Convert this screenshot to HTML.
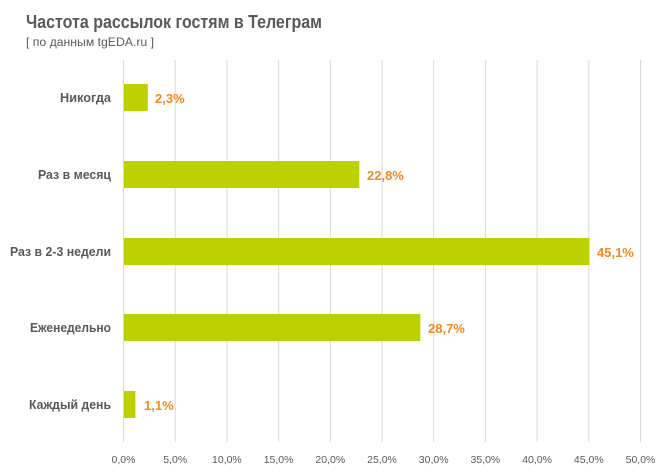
<!DOCTYPE html>
<html><head><meta charset="utf-8"><style>
html,body{margin:0;padding:0;background:#fff;}
svg{display:block;font-family:"Liberation Sans","DejaVu Sans",sans-serif;}
</style></head><body>
<svg width="670" height="475" viewBox="0 0 670 475">
<text x="26" y="28" font-size="18" font-weight="bold" fill="#595959" textLength="296" lengthAdjust="spacingAndGlyphs">Частота рассылок гостям в Телеграм</text>
<text x="26" y="46" font-size="12" fill="#595959" textLength="128" lengthAdjust="spacingAndGlyphs">[ по данным tgEDA.ru  ]</text>
<g stroke="#d9d9d9" stroke-width="1">
<line x1="123.5" y1="60" x2="123.5" y2="442"/>
<line x1="175.2" y1="60" x2="175.2" y2="442"/>
<line x1="226.9" y1="60" x2="226.9" y2="442"/>
<line x1="278.6" y1="60" x2="278.6" y2="442"/>
<line x1="330.3" y1="60" x2="330.3" y2="442"/>
<line x1="382" y1="60" x2="382" y2="442"/>
<line x1="433.7" y1="60" x2="433.7" y2="442"/>
<line x1="485.4" y1="60" x2="485.4" y2="442"/>
<line x1="537.1" y1="60" x2="537.1" y2="442"/>
<line x1="588.8" y1="60" x2="588.8" y2="442"/>
<line x1="640.5" y1="60" x2="640.5" y2="442"/>
</g>
<g fill="#bdd100">
<rect x="124" y="84" width="23.8" height="27"/>
<rect x="124" y="161" width="235.3" height="27"/>
<rect x="124" y="238" width="465.5" height="27"/>
<rect x="124" y="314" width="296.3" height="27"/>
<rect x="124" y="391" width="11.4" height="27"/>
</g>
<g font-size="13" font-weight="bold" fill="#595959" text-anchor="end">
<text x="111" y="102" textLength="51" lengthAdjust="spacingAndGlyphs">Никогда</text>
<text x="111" y="179" textLength="73" lengthAdjust="spacingAndGlyphs">Раз в месяц</text>
<text x="111" y="256" textLength="101" lengthAdjust="spacingAndGlyphs">Раз в 2-3 недели</text>
<text x="111" y="332" textLength="81" lengthAdjust="spacingAndGlyphs">Еженедельно</text>
<text x="111" y="409" textLength="82" lengthAdjust="spacingAndGlyphs">Каждый день</text>
</g>
<g font-size="13" font-weight="bold" fill="#f28a1e">
<text x="155" y="103">2,3%</text>
<text x="367" y="180">22,8%</text>
<text x="597" y="257">45,1%</text>
<text x="428" y="333">28,7%</text>
<text x="144" y="410">1,1%</text>
</g>
<g font-size="10.5" fill="#595959" text-anchor="middle">
<text x="123.5" y="463">0,0%</text>
<text x="175.2" y="463">5,0%</text>
<text x="226.9" y="463">10,0%</text>
<text x="278.6" y="463">15,0%</text>
<text x="330.3" y="463">20,0%</text>
<text x="382" y="463">25,0%</text>
<text x="433.7" y="463">30,0%</text>
<text x="485.4" y="463">35,0%</text>
<text x="537.1" y="463">40,0%</text>
<text x="588.8" y="463">45,0%</text>
<text x="640.5" y="463">50,0%</text>
</g>
</svg>
</body></html>
